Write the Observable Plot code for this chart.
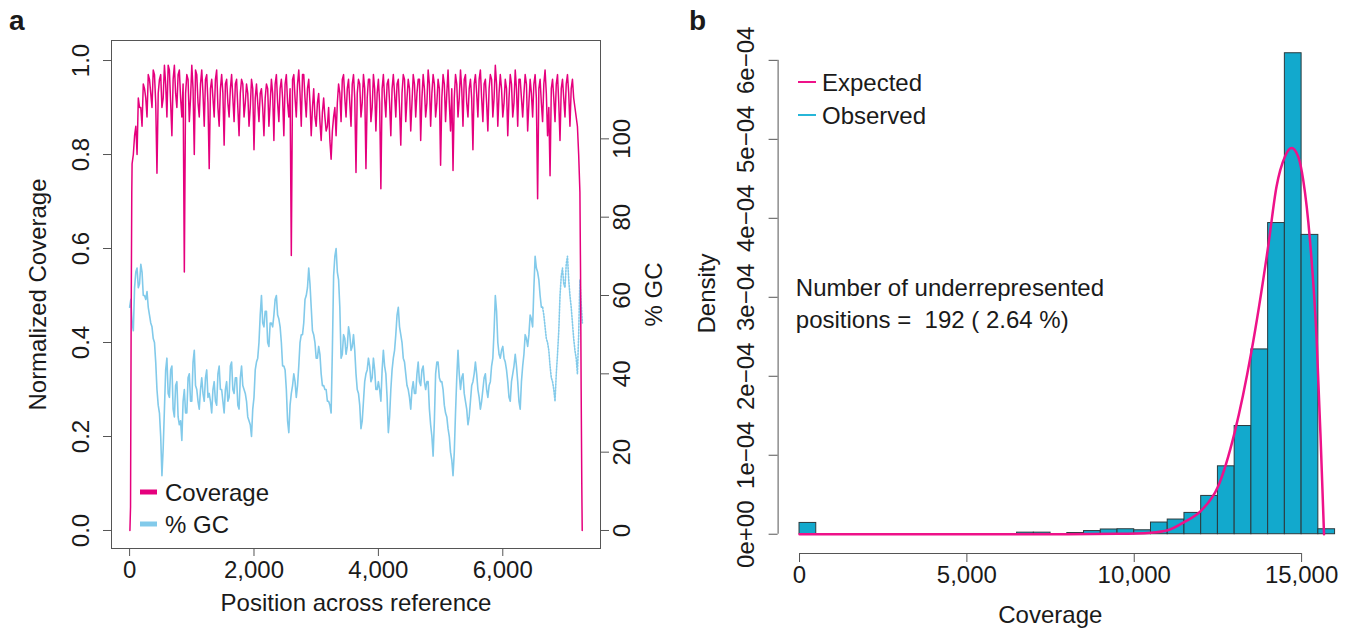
<!DOCTYPE html>
<html><head><meta charset="utf-8">
<script src="https://cdn.jsdelivr.net/npm/d3@7"></script>
<script src="https://cdn.jsdelivr.net/npm/@observablehq/plot@0.6"></script>
<style>
body{margin:0;background:#fff;}
#wrap{position:relative;width:1356px;height:637px;overflow:hidden;background:#fff;}
.panel{position:absolute;top:0;}
#ov{position:absolute;left:0;top:0;pointer-events:none;}
</style></head><body>
<div id="wrap">
  <div id="pa" class="panel" style="left:0px"></div>
  <div id="pb" class="panel" style="left:680px"></div>
  <svg id="ov" width="1356" height="637" font-family="Liberation Sans, Arial, sans-serif"></svg>
</div>
<script>
// ---------- Panel a data ----------
const covHeadPos = [5, 15, 25, 35];
const covHead = [0.0, 0.05, 0.45, 0.72];
// coverage read at positions 40, 80, ..., 7200
const covBodyStart = 40, covBodyStep = 40;
const covBody = [
  0.78,0.84,0.80,0.90,0.86,0.94,0.88,0.96,0.90,0.97,
  0.76,0.96,0.90,0.99,0.88,0.98,0.84,0.99,0.90,0.98,
  0.88,0.55,0.97,0.87,0.99,0.80,0.97,0.88,0.98,0.86,
  0.97,0.77,0.96,0.88,0.98,0.86,0.97,0.82,0.96,0.88,
  0.97,0.87,0.96,0.84,0.96,0.88,0.95,0.86,0.96,0.81,
  0.95,0.87,0.94,0.84,0.95,0.86,0.96,0.83,0.97,0.87,
  0.96,0.84,0.97,0.88,0.585,0.97,0.88,0.98,0.86,0.97,
  0.88,0.96,0.84,0.94,0.86,0.93,0.83,0.92,0.85,0.90,
  0.79,0.88,0.84,0.95,0.87,0.97,0.88,0.96,0.86,0.97,
  0.762,0.96,0.88,0.97,0.77,0.96,0.87,0.97,0.85,0.96,
  0.727,0.97,0.88,0.96,0.84,0.97,0.88,0.96,0.82,0.97,
  0.87,0.96,0.85,0.97,0.88,0.96,0.83,0.97,0.88,0.98,
  0.86,0.97,0.88,0.96,0.777,0.97,0.87,0.98,0.85,0.766,
  0.97,0.88,0.98,0.86,0.97,0.88,0.96,0.81,0.97,0.88,
  0.98,0.87,0.96,0.85,0.97,0.88,0.99,0.86,0.97,0.88,
  0.96,0.84,0.97,0.88,0.98,0.86,0.96,0.88,0.97,0.85,
  0.96,0.88,0.97,0.706,0.96,0.87,0.98,0.84,0.755,0.96,
  0.87,0.97,0.83,0.96,0.88,0.97,0.86,0.96,0.90,0.86
];
// coverage read at positions 60, 100, ..., 7180
const covMidStart = 60, covMidStep = 40;
const covMid = [
  0.80,0.86,0.92,0.90,0.95,0.92,0.97,0.93,0.98,0.91,
  0.93,0.97,0.92,0.95,0.99,0.91,0.96,0.93,0.97,0.92,
  0.95,0.93,0.96,0.92,0.94,0.98,0.91,0.95,0.93,0.96,
  0.91,0.94,0.92,0.96,0.90,0.94,0.93,0.95,0.91,0.94,
  0.92,0.95,0.90,0.93,0.95,0.91,0.93,0.90,0.94,0.92,
  0.91,0.93,0.90,0.92,0.94,0.91,0.93,0.95,0.91,0.94,
  0.92,0.95,0.91,0.94,0.96,0.92,0.95,0.93,0.97,0.92,
  0.94,0.91,0.90,0.88,0.91,0.87,0.89,0.88,0.86,0.83,
  0.85,0.90,0.91,0.93,0.96,0.92,0.94,0.91,0.95,0.92,
  0.93,0.95,0.91,0.94,0.92,0.96,0.90,0.94,0.93,0.91,
  0.94,0.92,0.95,0.91,0.94,0.93,0.95,0.90,0.93,0.96,
  0.92,0.94,0.91,0.95,0.93,0.96,0.92,0.94,0.91,0.95,
  0.93,0.95,0.91,0.94,0.92,0.95,0.93,0.91,0.94,0.92,
  0.95,0.92,0.94,0.96,0.91,0.94,0.92,0.95,0.93,0.96,
  0.92,0.95,0.91,0.94,0.96,0.92,0.95,0.93,0.94,0.91,
  0.94,0.92,0.95,0.91,0.94,0.96,0.92,0.93,0.95,0.91,
  0.93,0.95,0.92,0.94,0.91,0.95,0.93,0.90,0.94,0.92,
  0.95,0.91,0.94,0.92,0.95,0.93,0.94,0.92,0.88
];
const covTailPos = [7220, 7240, 7250, 7260, 7270, 7277];
const covTail = [0.80, 0.72, 0.55, 0.30, 0.10, 0.0];

// %GC read at positions 0, 40, ..., 7280
const gcStart = 0, gcStep = 40;
const gcVals = [
  57,53,62,67,63,66,60,61,55,52,
  48,36,30,14,31,44,34,42,29,38,
  27,23,36,30,40,33,46,36,31,39,
  33,41,35,30,38,32,42,36,30,38,
  34,43,35,39,31,42,36,33,28,24,
  34,43,48,60,52,56,47,53,55,60,
  54,48,42,36,25,35,40,34,42,50,
  53,60,67,57,50,44,47,40,37,36,
  33,30,65,72,64,44,50,45,52,46,
  50,40,35,26,33,40,44,38,44,36,
  38,33,46,40,25,36,44,50,57,50,
  44,40,36,31,38,35,43,37,42,36,
  38,27,19,40,43,38,36,30,26,20,
  14,30,46,36,40,33,27,33,38,43,
  36,31,36,40,34,38,44,60,48,44,
  47,43,38,33,40,45,38,31,42,50,
  47,55,52,70,66,60,57,52,48,42,
  38,33,45,60,67,62,70,60,53,46,
  40,64,53
];
// %GC read at positions 20, 60, ..., 7260
const gcMidStart = 20, gcMidStep = 40;
const gcMid = [
  59,51,66,62,68,60,59,57,53,49,
  43,32,24,21,41,35,41,31,37,29,
  28,33,30,39,33,43,37,33,36,35,
  39,34,33,36,33,40,36,33,36,33,
  42,36,39,32,39,37,35,29,27,31,
  41,44,55,53,56,48,53,52,59,55,
  52,42,41,28,32,37,38,37,48,50,
  59,62,63,51,48,44,45,37,36,33,
  32,46,70,66,57,45,49,47,50,47,
  46,36,32,28,38,41,42,39,41,36,
  36,41,42,34,29,41,46,55,52,48,
  43,37,34,36,35,40,38,41,38,38,
  31,24,28,43,39,38,32,29,24,18,
  20,39,40,39,35,31,29,37,40,40,
  34,33,39,36,37,42,51,56,45,46,
  44,41,34,38,42,42,33,38,45,49,
  50,54,62,67,64,57,55,49,46,39,
  36,40,51,65,63,68,64,57,49,44,
  50,58
];
const gcDottedFrom = 6640;
const GC_MAX = 120; // right axis: 0–120 %GC spans the same height as coverage 0–1

const xTicksA = [0, 2000, 4000, 6000];
const covTicks = [0, 0.2, 0.4, 0.6, 0.8, 1.0];
const gcTicks = [0, 20, 40, 60, 80, 100];

// ---------- Panel b data ----------
const binStarts = [0,6500,7000,8000,8500,9000,9500,10000,10500,11000,11500,12000,12500,13000,13500,14000,14500,15000,15500];
const binWidth = 500;
const density = [1.43e-5,2e-6,2e-6,1.5e-6,4e-6,6e-6,6.3e-6,5e-6,1.48e-5,1.86e-5,2.7e-5,4.85e-5,8.6e-5,1.37e-4,2.34e-4,3.94e-4,6.09e-4,3.79e-4,6.3e-6];
const expPos = [0,8000,9500,10500,11000,11500,12000,12500,13000,13500,14000,14250,14500,14700,14900,15050,15250,15450,15570,15670];
const expDens = [0,0,5e-7,2e-6,5e-6,1.56e-5,3.0e-5,6.0e-5,1.29e-4,2.31e-4,3.64e-4,4.40e-4,4.78e-4,4.89e-4,4.78e-4,4.48e-4,3.72e-4,2.46e-4,1.19e-4,0];
const xTicksB = [0, 5000, 10000, 15000];
const yTicksB = [0, 1e-4, 2e-4, 3e-4, 4e-4, 5e-4, 6e-4];
const annotation = "Number of underrepresented\npositions =\u00a0 192 ( 2.64 %)";

// ---------- styles ----------
const FONT = "Liberation Sans, Arial, Helvetica, sans-serif";
const FS = 24;
const PINK = "#e5007d", SKY = "#82caea", BAR = "#12a9cd", EXP = "#ee1289", AX = "#555", TXT = "#1a1a1a";

// ---------- build panel a ----------
const cov = [];
covHeadPos.forEach((p, i) => cov.push({pos: p, v: covHead[i]}));
covBody.forEach((v, i) => cov.push({pos: covBodyStart + i * covBodyStep, v}));
covMid.forEach((v, i) => cov.push({pos: covMidStart + i * covMidStep, v}));
covTailPos.forEach((p, i) => cov.push({pos: p, v: covTail[i]}));
cov.sort((a, b) => a.pos - b.pos);
const gc = [];
gcVals.forEach((v, i) => gc.push({pos: gcStart + i * gcStep, v}));
gcMid.forEach((v, i) => gc.push({pos: gcMidStart + i * gcMidStep, v}));
gc.sort((a, b) => a.pos - b.pos);
const gcSolid = gc.filter(d => d.pos <= gcDottedFrom);
const gcDot = gc.filter(d => d.pos >= gcDottedFrom);
const fmtComma = d3.format(",");

const plotA = Plot.plot({
  width: 680, height: 637,
  marginLeft: 111, marginRight: 80, marginTop: 40, marginBottom: 89,
  style: {fontFamily: FONT, fontSize: FS + "px", background: "transparent", color: TXT, overflow: "visible"},
  x: {domain: [-291, 7571], label: null},
  y: {domain: [-0.0383, 1.0426], label: null},
  marks: [
    Plot.line(gcSolid, {x: "pos", y: d => d.v / GC_MAX, stroke: SKY, strokeWidth: 1.6}),
    Plot.line(gcDot, {x: "pos", y: d => d.v / GC_MAX, stroke: SKY, strokeWidth: 1.6, strokeDasharray: "1.5,1.5"}),
    Plot.line(cov, {x: "pos", y: "v", stroke: PINK, strokeWidth: 1.5}),
    Plot.frame({stroke: AX}),
    Plot.axisX(xTicksA, {tickSize: 8, tickFormat: () => "", stroke: AX, label: null}),
    Plot.text(xTicksA, {x: d => d, frameAnchor: "bottom", dy: 29, text: d => fmtComma(d), fontSize: FS, fill: TXT}),
    Plot.axisY(covTicks, {anchor: "left", tickSize: 8, tickFormat: () => "", stroke: AX, label: null}),
    Plot.text(covTicks, {y: d => d, frameAnchor: "left", dx: -30, rotate: -90, textAnchor: "middle", text: d => d.toFixed(1), fontSize: FS, fill: TXT}),
    Plot.axisY(gcTicks.map(v => v / GC_MAX), {anchor: "right", tickSize: 8, tickFormat: () => "", stroke: AX, label: null}),
    Plot.text(gcTicks, {y: d => d / GC_MAX, frameAnchor: "right", dx: 22, rotate: -90, textAnchor: "middle", text: d => String(d), fontSize: FS, fill: TXT}),
    Plot.text(["Normalized Coverage"], {frameAnchor: "left", dx: -73, rotate: -90, textAnchor: "middle", text: d => d, fontSize: FS, fill: TXT}),
    Plot.text(["% GC"], {frameAnchor: "right", dx: 54, rotate: -90, textAnchor: "middle", text: d => d, fontSize: FS, fill: TXT}),
    Plot.text(["Position across reference"], {frameAnchor: "bottom", dy: 62, text: d => d, fontSize: FS, fill: TXT})
  ]
});
document.getElementById("pa").appendChild(plotA);

// ---------- build panel b ----------
const bins = binStarts.map((s, i) => ({x1: s, x2: s + binWidth, d: density[i]}));
const expected = expPos.map((p, i) => ({x: p, y: expDens[i]}));
const sci = d => {
  if (d === 0) return "0e+00";
  const e = Math.floor(Math.log10(d) + 1e-9);
  const m = Math.round(d / Math.pow(10, e));
  return m + "e\u2212" + String(-e).padStart(2, "0");
};
const plotB = Plot.plot({
  width: 676, height: 637,
  marginLeft: 97.6, marginRight: 0, marginTop: 33, marginBottom: 84,
  style: {fontFamily: FONT, fontSize: FS + "px", background: "transparent", color: TXT, overflow: "visible"},
  x: {domain: [-640, 16640], label: null},
  y: {domain: [-2.44e-5, 6.34e-4], label: null},
  marks: [
    Plot.rect(bins, {x1: "x1", x2: "x2", y1: 0, y2: "d", fill: BAR, stroke: "#2b3a3e", strokeWidth: 1}),
    Plot.line(expected, {x: "x", y: "y", stroke: EXP, strokeWidth: 2.5, curve: "monotone-x"}),
    Plot.ruleX([-640], {y1: 0, y2: 6e-4, stroke: AX}),
    Plot.ruleY([-2.44e-5], {x1: 0, x2: 15000, stroke: AX}),
    Plot.axisX(xTicksB, {tickSize: 9, tickFormat: () => "", stroke: AX, label: null}),
    Plot.text(xTicksB, {x: d => d, frameAnchor: "bottom", dy: 29, text: d => fmtComma(d), fontSize: FS, fill: TXT}),
    Plot.axisY(yTicksB, {anchor: "left", tickSize: 9, tickFormat: () => "", stroke: AX, label: null}),
    Plot.text(yTicksB, {y: d => d, frameAnchor: "left", dx: -32, rotate: -90, textAnchor: "middle", text: sci, fontSize: FS, fill: TXT}),
    Plot.text(["Density"], {frameAnchor: "left", dx: -71, rotate: -90, textAnchor: "middle", text: d => d, fontSize: FS, fill: TXT}),
    Plot.text(["Coverage"], {frameAnchor: "bottom", dx: -17, dy: 69, text: d => d, fontSize: FS, fill: TXT}),
    Plot.text([annotation], {x: () => -110, y: () => 2.947e-4, textAnchor: "start", lineHeight: 1.33, text: d => d, fontSize: FS, fill: TXT})
  ]
});
document.getElementById("pb").appendChild(plotB);

// ---------- panel labels & legends (overlay) ----------
const ov = d3.select("#ov");
ov.append("text").attr("x", 9).attr("y", 30).attr("font-size", 28).attr("font-weight", "bold").attr("fill", TXT).text("a");
ov.append("text").attr("x", 689).attr("y", 30).attr("font-size", 28).attr("font-weight", "bold").attr("fill", TXT).text("b");
const legA = [{label: "Coverage", color: PINK, y: 492}, {label: "% GC", color: SKY, y: 524}];
legA.forEach(l => {
  ov.append("line").attr("x1", 140).attr("x2", 157).attr("y1", l.y).attr("y2", l.y).attr("stroke", l.color).attr("stroke-width", 5);
  ov.append("text").attr("x", 165).attr("y", l.y).attr("dominant-baseline", "central").attr("font-size", FS).attr("fill", TXT).text(l.label);
});
const legB = [{label: "Expected", color: EXP, y: 82}, {label: "Observed", color: "#27b6d8", y: 115}];
legB.forEach(l => {
  ov.append("line").attr("x1", 798).attr("x2", 816).attr("y1", l.y).attr("y2", l.y).attr("stroke", l.color).attr("stroke-width", 2);
  ov.append("text").attr("x", 822).attr("y", l.y).attr("dominant-baseline", "central").attr("font-size", FS).attr("fill", TXT).text(l.label);
});
</script>
</body></html>
